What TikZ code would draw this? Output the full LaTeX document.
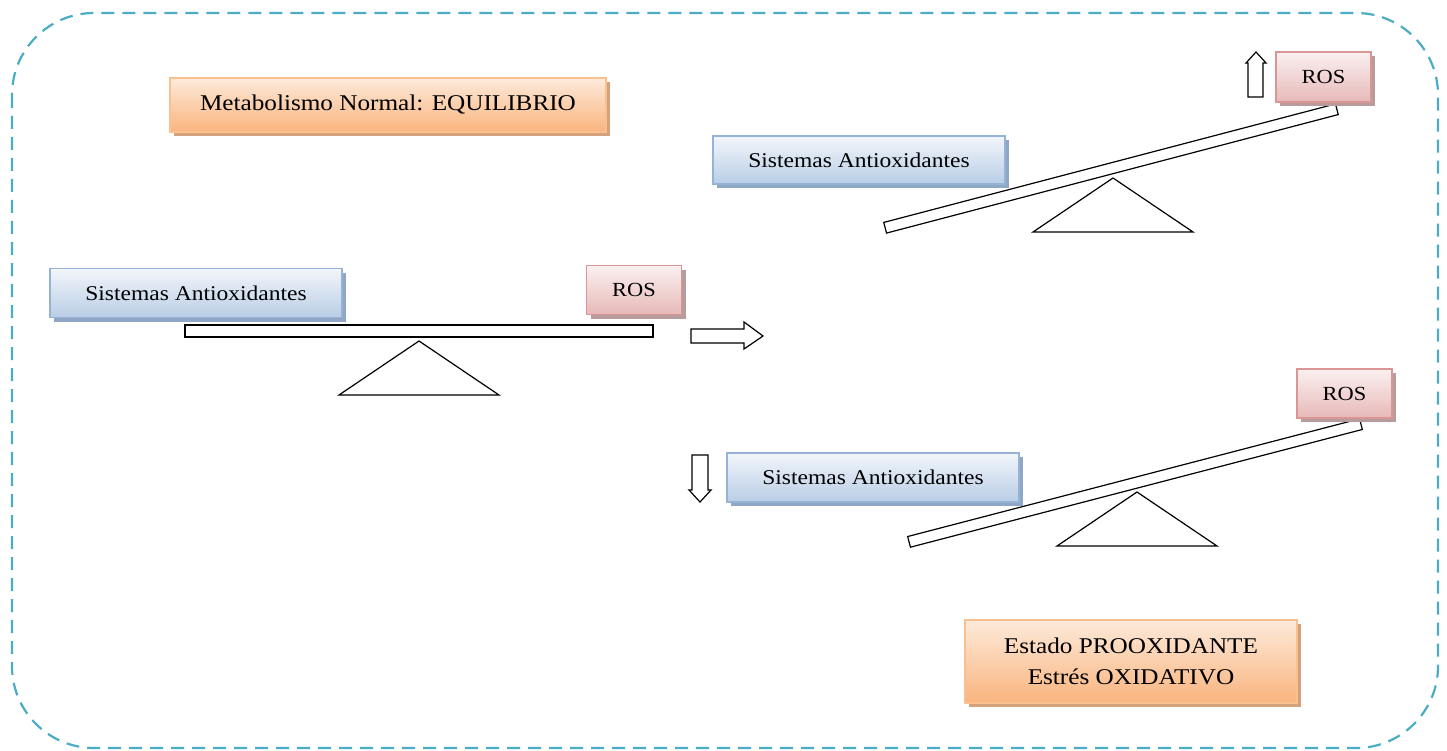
\documentclass[tikz,border=0pt]{standalone}
\usepackage{fontspec}
\setmainfont{Liberation Serif}[FakeStretch=1.12]
\usetikzlibrary{shadows}
\definecolor{frameblue}{HTML}{4BACC6}
\definecolor{blueborder}{HTML}{95B3D7}
\definecolor{bluetop}{HTML}{F2F6FB}
\definecolor{bluebot}{HTML}{B9CDE5}
\definecolor{blueshadow}{HTML}{8FA7C4}
\definecolor{redborder}{HTML}{D99694}
\definecolor{redtop}{HTML}{FBF0F0}
\definecolor{redbot}{HTML}{E6B9B8}
\definecolor{redshadow}{HTML}{B79C9B}
\definecolor{orangeborder}{HTML}{FAC090}
\definecolor{orangetop}{HTML}{FDEADA}
\definecolor{orangebot}{HTML}{F9B47E}
\definecolor{orangeshadow}{HTML}{D3A27C}
\tikzset{
  boxbase/.style={line width=1.3pt, inner sep=0pt, align=center, font=\fontsize{21}{25}\selectfont},
  bluebox/.style={boxbase, draw=blueborder, top color=bluetop, bottom color=bluebot,
    drop shadow={shadow xshift=4pt, shadow yshift=-4pt, fill=blueshadow, opacity=1},
    minimum width=292pt, minimum height=49pt},
  rosbox/.style={boxbase, draw=redborder, top color=redtop, bottom color=redbot,
    drop shadow={shadow xshift=4pt, shadow yshift=-4pt, fill=redshadow, opacity=1},
    minimum width=95pt, minimum height=49pt, font=\fontsize{20}{24}\selectfont},
  orangebox/.style={boxbase, draw=orangeborder, top color=orangetop, bottom color=orangebot,
    drop shadow={shadow xshift=4pt, shadow yshift=-4pt, fill=orangeshadow, opacity=1},
    font=\fontsize{22.5}{31}\selectfont},
  beam/.style={draw=black, line width=1.2pt, fill=white, minimum width=467pt, minimum height=11pt, inner sep=0pt},
  fulcrum/.style={draw=black, line width=1.2pt, fill=white},
  blockarrow/.style={draw=black, line width=1.2pt, fill=white, line join=miter},
  frame/.style={draw=frameblue, line width=2.2pt, dash pattern=on 13pt off 8pt, rounded corners=82pt}
}
\begin{document}
\begin{tikzpicture}[x=1pt,y=-1pt]
\useasboundingbox (0,0) rectangle (1447,751);
\draw[frame] (12,13) rectangle (1438,748);

% title boxes
\node[orangebox, minimum width=436pt, minimum height=54pt] (equil) at (388,105) {Metabolismo Normal: EQUILIBRIO};
\node[orangebox, minimum width=332pt, minimum height=83pt] (prooxi) at (1131,661.5) {Estado PROOXIDANTE\\Estrés OXIDATIVO};

% left balance (equilibrium)
\draw[fulcrum] (419,341) -- (499,395) -- (339,395) -- cycle;
\node[beam, minimum width=468pt, minimum height=12pt] (beamA) at (419,331) {};
\node[bluebox] (antiA) at (196,293) {Sistemas Antioxidantes};
\node[rosbox] (rosA) at (634,290) {ROS};

% right arrow
\draw[blockarrow] (691,329) -- (744,329) -- (744,322) -- (763,336) -- (744,349) -- (744,343) -- (691,343) -- cycle;

% top right balance
\draw[fulcrum] (1113,178) -- (1193,232) -- (1033,232) -- cycle;
\node[beam, rotate=14.7] (beamB) at (1111,168.5) {};
\node[bluebox, minimum height=48pt] (antiB) at (859,160) {Sistemas Antioxidantes};
\node[rosbox, minimum height=50pt] (rosB) at (1323.5,77) {ROS};
\draw[blockarrow] (1248,97) -- (1248,63) -- (1246,63) -- (1256,52) -- (1266,63) -- (1263,63) -- (1263,97) -- cycle;

% bottom right balance
\draw[fulcrum] (1137,492) -- (1217,546) -- (1057,546) -- cycle;
\node[beam, rotate=14.6] (beamC) at (1135,483) {};
\node[bluebox] (antiC) at (873,477.5) {Sistemas Antioxidantes};
\node[rosbox] (rosC) at (1344.5,393.5) {ROS};
\draw[blockarrow] (692,455) -- (708,455) -- (708,490) -- (711,490) -- (700,502) -- (689,490) -- (692,490) -- cycle;
\end{tikzpicture}
\end{document}
